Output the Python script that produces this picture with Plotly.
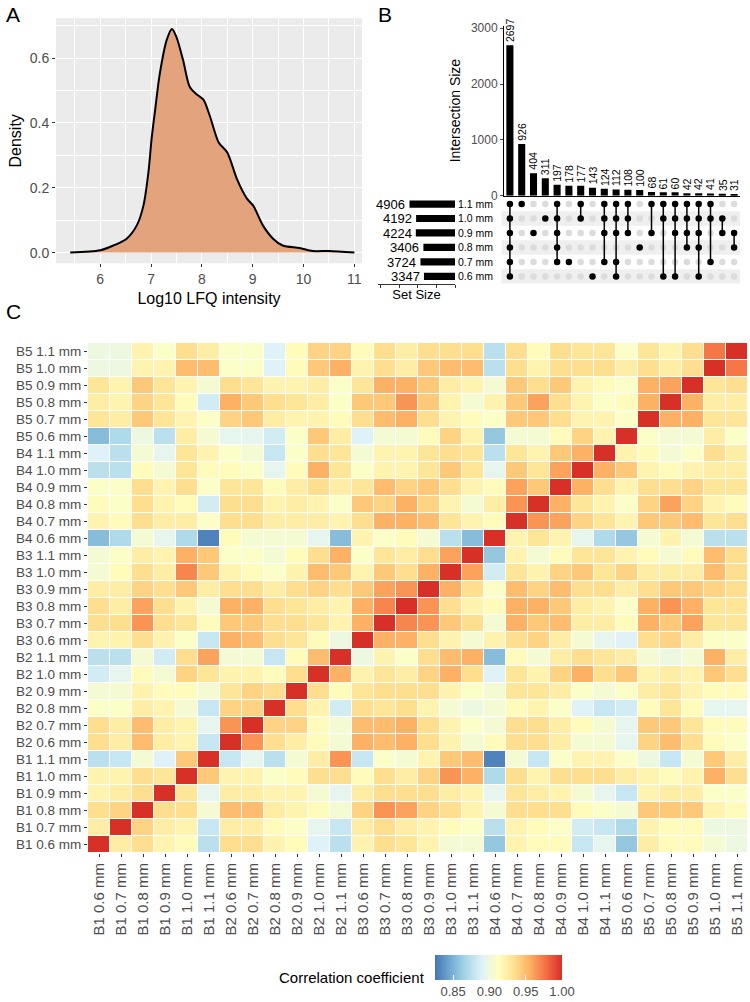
import plotly.graph_objects as go

W, H = 750, 1002
FONT = "Liberation Sans, Arial, sans-serif"
GREY30 = "#4D4D4D"

# ---------------- Panel A: density ----------------
dens_x = [5.41, 6.0, 6.26, 6.52, 6.72, 6.85, 6.95, 7.01, 7.08, 7.17, 7.31, 7.41, 7.5, 7.63,
          7.76, 7.9, 8.03, 8.16, 8.33, 8.5, 8.69, 8.89, 9.01, 9.2, 9.4, 9.59, 9.92, 10.18, 10.5, 11.0]
dens_y = [0.0, 0.007, 0.022, 0.043, 0.084, 0.145, 0.25, 0.35, 0.44, 0.55, 0.657, 0.69, 0.665, 0.594,
          0.512, 0.488, 0.472, 0.42, 0.34, 0.309, 0.227, 0.166, 0.145, 0.084, 0.043, 0.022, 0.014, 0.005, 0.005, 0.0]

# ---------------- Panel B: UpSet ----------------
set_names = ["0.6 mm", "0.7 mm", "0.8 mm", "0.9 mm", "1.0 mm", "1.1 mm"]
set_sizes = [3347, 3724, 3406, 4224, 4192, 4906]
inter_sizes = [2697, 926, 404, 311, 197, 178, 177, 143, 124, 112, 108, 100, 68, 61, 60, 42, 42, 41, 35, 31]
inter_members = [
    ["1.1 mm", "1.0 mm", "0.9 mm", "0.8 mm", "0.7 mm", "0.6 mm"],
    ["1.1 mm"],
    ["0.9 mm"],
    ["1.0 mm"],
    ["1.1 mm", "1.0 mm", "0.9 mm", "0.8 mm", "0.7 mm"],
    ["0.7 mm"],
    ["1.1 mm", "1.0 mm"],
    ["0.6 mm"],
    ["1.1 mm", "1.0 mm", "0.9 mm", "0.7 mm"],
    ["1.1 mm", "1.0 mm", "0.9 mm", "0.7 mm", "0.6 mm"],
    ["1.1 mm", "1.0 mm", "0.9 mm"],
    ["0.8 mm"],
    ["1.1 mm", "0.9 mm"],
    ["1.1 mm", "1.0 mm", "0.6 mm"],
    ["1.1 mm", "1.0 mm", "0.9 mm", "0.6 mm"],
    ["1.1 mm", "1.0 mm", "0.9 mm", "0.8 mm"],
    ["1.1 mm", "1.0 mm", "0.9 mm", "0.8 mm", "0.6 mm"],
    ["1.1 mm", "1.0 mm", "0.7 mm"],
    ["1.0 mm", "0.9 mm"],
    ["0.9 mm", "0.8 mm"],
]

# ---------------- Panel C: correlation heatmap ----------------
batches = ["B1", "B2", "B3", "B4", "B5"]
thick = ["0.6 mm", "0.7 mm", "0.8 mm", "0.9 mm", "1.0 mm", "1.1 mm"]
samples = [f"{b} {t}" for b in batches for t in thick]
corr = [
    [1.0, 0.925, 0.935, 0.92, 0.915, 0.875, 0.935, 0.935, 0.92, 0.915, 0.89, 0.875, 0.92, 0.935, 0.93, 0.92, 0.905, 0.905, 0.86, 0.92, 0.915, 0.915, 0.88, 0.895, 0.86, 0.925, 0.915, 0.915, 0.905, 0.9],
    [0.925, 1.0, 0.94, 0.925, 0.92, 0.88, 0.925, 0.925, 0.915, 0.91, 0.895, 0.88, 0.925, 0.935, 0.925, 0.92, 0.915, 0.91, 0.875, 0.92, 0.915, 0.91, 0.885, 0.88, 0.87, 0.92, 0.915, 0.915, 0.9, 0.9],
    [0.935, 0.94, 1.0, 0.935, 0.935, 0.905, 0.95, 0.95, 0.925, 0.92, 0.915, 0.905, 0.94, 0.965, 0.96, 0.94, 0.935, 0.92, 0.905, 0.935, 0.935, 0.935, 0.915, 0.91, 0.905, 0.945, 0.945, 0.945, 0.92, 0.915],
    [0.92, 0.925, 0.935, 1.0, 0.93, 0.895, 0.925, 0.925, 0.92, 0.92, 0.905, 0.895, 0.925, 0.935, 0.935, 0.935, 0.925, 0.92, 0.895, 0.93, 0.925, 0.92, 0.905, 0.895, 0.88, 0.92, 0.925, 0.925, 0.91, 0.91],
    [0.92, 0.92, 0.935, 0.93, 1.0, 0.945, 0.92, 0.92, 0.91, 0.915, 0.935, 0.935, 0.915, 0.935, 0.925, 0.94, 0.965, 0.955, 0.87, 0.935, 0.92, 0.935, 0.935, 0.935, 0.925, 0.92, 0.915, 0.92, 0.955, 0.935],
    [0.875, 0.88, 0.905, 0.89, 0.945, 1.0, 0.88, 0.895, 0.875, 0.905, 0.925, 0.965, 0.88, 0.91, 0.905, 0.92, 0.945, 0.95, 0.83, 0.905, 0.88, 0.91, 0.92, 0.92, 0.91, 0.9, 0.88, 0.905, 0.945, 0.925],
    [0.935, 0.925, 0.95, 0.925, 0.92, 0.88, 1.0, 0.965, 0.935, 0.925, 0.915, 0.905, 0.955, 0.95, 0.955, 0.935, 0.92, 0.905, 0.915, 0.935, 0.935, 0.925, 0.905, 0.905, 0.895, 0.94, 0.95, 0.935, 0.915, 0.91],
    [0.935, 0.925, 0.95, 0.925, 0.92, 0.895, 0.965, 1.0, 0.94, 0.94, 0.915, 0.905, 0.95, 0.95, 0.955, 0.935, 0.92, 0.91, 0.905, 0.935, 0.935, 0.925, 0.915, 0.905, 0.895, 0.945, 0.945, 0.93, 0.915, 0.915],
    [0.91, 0.91, 0.925, 0.92, 0.905, 0.88, 0.94, 0.94, 1.0, 0.935, 0.92, 0.885, 0.935, 0.93, 0.935, 0.92, 0.905, 0.9, 0.905, 0.915, 0.92, 0.91, 0.89, 0.88, 0.885, 0.915, 0.93, 0.915, 0.895, 0.895],
    [0.905, 0.905, 0.92, 0.915, 0.915, 0.905, 0.93, 0.94, 0.935, 1.0, 0.935, 0.915, 0.93, 0.935, 0.935, 0.935, 0.92, 0.91, 0.905, 0.93, 0.93, 0.925, 0.91, 0.905, 0.91, 0.925, 0.93, 0.92, 0.915, 0.915],
    [0.885, 0.895, 0.915, 0.905, 0.94, 0.93, 0.92, 0.92, 0.915, 0.935, 1.0, 0.955, 0.92, 0.93, 0.925, 0.94, 0.955, 0.935, 0.89, 0.93, 0.92, 0.94, 0.955, 0.935, 0.945, 0.92, 0.925, 0.92, 0.945, 0.935],
    [0.875, 0.875, 0.905, 0.885, 0.935, 0.96, 0.905, 0.905, 0.88, 0.915, 0.95, 1.0, 0.9, 0.92, 0.91, 0.935, 0.95, 0.955, 0.855, 0.915, 0.905, 0.925, 0.935, 0.93, 0.925, 0.905, 0.9, 0.905, 0.955, 0.925],
    [0.92, 0.92, 0.935, 0.92, 0.91, 0.88, 0.955, 0.95, 0.935, 0.93, 0.915, 0.9, 1.0, 0.955, 0.955, 0.935, 0.92, 0.905, 0.92, 0.935, 0.94, 0.925, 0.905, 0.895, 0.89, 0.935, 0.94, 0.925, 0.91, 0.91],
    [0.935, 0.935, 0.965, 0.935, 0.93, 0.915, 0.945, 0.945, 0.935, 0.935, 0.93, 0.92, 0.955, 1.0, 0.97, 0.965, 0.945, 0.935, 0.905, 0.955, 0.945, 0.95, 0.925, 0.925, 0.915, 0.955, 0.945, 0.96, 0.93, 0.93],
    [0.935, 0.925, 0.96, 0.935, 0.92, 0.905, 0.955, 0.955, 0.935, 0.93, 0.925, 0.92, 0.955, 0.97, 1.0, 0.965, 0.935, 0.92, 0.915, 0.955, 0.955, 0.945, 0.925, 0.92, 0.91, 0.955, 0.965, 0.955, 0.93, 0.93],
    [0.925, 0.925, 0.94, 0.935, 0.945, 0.925, 0.935, 0.935, 0.925, 0.935, 0.94, 0.935, 0.945, 0.96, 0.965, 1.0, 0.955, 0.935, 0.91, 0.95, 0.94, 0.95, 0.935, 0.935, 0.925, 0.935, 0.945, 0.945, 0.94, 0.935],
    [0.905, 0.915, 0.935, 0.925, 0.97, 0.945, 0.92, 0.915, 0.91, 0.92, 0.95, 0.945, 0.92, 0.945, 0.935, 0.955, 1.0, 0.96, 0.885, 0.93, 0.92, 0.94, 0.945, 0.93, 0.94, 0.925, 0.925, 0.925, 0.95, 0.935],
    [0.905, 0.91, 0.925, 0.92, 0.955, 0.945, 0.91, 0.91, 0.905, 0.915, 0.935, 0.955, 0.91, 0.93, 0.925, 0.935, 0.96, 1.0, 0.86, 0.92, 0.905, 0.915, 0.93, 0.93, 0.92, 0.915, 0.905, 0.915, 0.95, 0.935],
    [0.855, 0.87, 0.905, 0.895, 0.87, 0.83, 0.915, 0.905, 0.905, 0.905, 0.895, 0.855, 0.92, 0.91, 0.915, 0.905, 0.875, 0.855, 1.0, 0.92, 0.93, 0.92, 0.895, 0.87, 0.86, 0.905, 0.92, 0.905, 0.875, 0.875],
    [0.92, 0.915, 0.935, 0.925, 0.925, 0.91, 0.935, 0.935, 0.925, 0.925, 0.925, 0.92, 0.935, 0.955, 0.955, 0.95, 0.93, 0.92, 0.915, 1.0, 0.965, 0.96, 0.94, 0.93, 0.92, 0.945, 0.945, 0.95, 0.93, 0.935],
    [0.915, 0.91, 0.935, 0.92, 0.915, 0.885, 0.935, 0.935, 0.92, 0.925, 0.92, 0.91, 0.945, 0.94, 0.955, 0.94, 0.92, 0.905, 0.925, 0.965, 1.0, 0.955, 0.93, 0.92, 0.91, 0.94, 0.96, 0.94, 0.92, 0.915],
    [0.91, 0.91, 0.935, 0.92, 0.935, 0.91, 0.93, 0.93, 0.915, 0.925, 0.935, 0.925, 0.93, 0.95, 0.94, 0.945, 0.935, 0.92, 0.915, 0.96, 0.945, 1.0, 0.955, 0.935, 0.92, 0.935, 0.935, 0.94, 0.93, 0.93],
    [0.875, 0.875, 0.915, 0.905, 0.93, 0.915, 0.915, 0.91, 0.895, 0.915, 0.955, 0.93, 0.91, 0.92, 0.92, 0.93, 0.945, 0.93, 0.895, 0.945, 0.93, 0.96, 1.0, 0.955, 0.945, 0.92, 0.915, 0.92, 0.925, 0.925],
    [0.89, 0.875, 0.905, 0.895, 0.93, 0.92, 0.91, 0.905, 0.88, 0.91, 0.935, 0.93, 0.905, 0.92, 0.92, 0.93, 0.935, 0.93, 0.875, 0.93, 0.92, 0.945, 0.955, 1.0, 0.92, 0.915, 0.905, 0.91, 0.935, 0.925],
    [0.855, 0.87, 0.9, 0.875, 0.925, 0.905, 0.895, 0.895, 0.885, 0.91, 0.945, 0.925, 0.89, 0.905, 0.905, 0.915, 0.94, 0.92, 0.86, 0.905, 0.905, 0.915, 0.94, 0.92, 1.0, 0.91, 0.905, 0.905, 0.925, 0.91],
    [0.93, 0.925, 0.945, 0.93, 0.92, 0.91, 0.94, 0.945, 0.925, 0.92, 0.92, 0.915, 0.935, 0.95, 0.955, 0.935, 0.92, 0.915, 0.91, 0.945, 0.945, 0.935, 0.92, 0.92, 0.91, 1.0, 0.955, 0.955, 0.93, 0.93],
    [0.925, 0.92, 0.94, 0.93, 0.915, 0.885, 0.955, 0.945, 0.935, 0.93, 0.925, 0.91, 0.945, 0.945, 0.965, 0.945, 0.92, 0.905, 0.92, 0.945, 0.96, 0.935, 0.92, 0.91, 0.915, 0.955, 1.0, 0.955, 0.925, 0.925],
    [0.93, 0.92, 0.945, 0.93, 0.92, 0.905, 0.935, 0.93, 0.92, 0.92, 0.925, 0.91, 0.93, 0.955, 0.955, 0.945, 0.925, 0.92, 0.905, 0.945, 0.935, 0.945, 0.92, 0.915, 0.91, 0.955, 0.96, 1.0, 0.93, 0.935],
    [0.9, 0.9, 0.92, 0.92, 0.95, 0.95, 0.91, 0.91, 0.89, 0.915, 0.945, 0.955, 0.92, 0.935, 0.925, 0.945, 0.95, 0.95, 0.875, 0.935, 0.92, 0.935, 0.935, 0.935, 0.925, 0.935, 0.925, 0.935, 1.0, 0.975],
    [0.9, 0.9, 0.92, 0.91, 0.935, 0.925, 0.91, 0.91, 0.89, 0.915, 0.94, 0.94, 0.915, 0.935, 0.925, 0.935, 0.935, 0.935, 0.875, 0.935, 0.915, 0.935, 0.93, 0.93, 0.91, 0.93, 0.92, 0.935, 0.975, 1.0],
]
cbar_ticks = [0.85, 0.90, 0.95, 1.00]
rdylbu_rev = ["#4575B4", "#74ADD1", "#ABD9E9", "#E0F3F8", "#FFFFBF", "#FEE090", "#FDAE61", "#F46D43", "#D73027"]


def px_x(p):
    return p / W


def px_y(p):
    return 1 - p / H


fig = go.Figure()

# Panel A
fig.add_trace(go.Scatter(x=dens_x, y=dens_y, mode="lines", line=dict(color="black", width=2, shape="spline", smoothing=0.8),
                         fill="tozeroy", fillcolor="#E3A47D", xaxis="x", yaxis="y", showlegend=False, hoverinfo="skip"))

# Panel B - intersection bars
ix = list(range(1, len(inter_sizes) + 1))
fig.add_trace(go.Bar(x=ix, y=inter_sizes, marker=dict(color="black", line=dict(width=0)), width=0.6,
                     xaxis="x2", yaxis="y2", showlegend=False))

# Panel B - matrix dots
set_pos = {s: i + 1 for i, s in enumerate(set_names)}
gx, gy, bx, by = [], [], [], []
lx, ly = [], []
for i, mem in enumerate(inter_members):
    for s in set_names:
        if s in mem:
            bx.append(i + 1)
            by.append(set_pos[s])
        else:
            gx.append(i + 1)
            gy.append(set_pos[s])
    if len(mem) > 1:
        ps = [set_pos[s] for s in mem]
        lx += [i + 1, i + 1, None]
        ly += [min(ps), max(ps), None]
fig.add_trace(go.Scatter(x=gx, y=gy, mode="markers", marker=dict(color="#DCDCDC", size=6.5),
                         xaxis="x3", yaxis="y3", showlegend=False))
fig.add_trace(go.Scatter(x=lx, y=ly, mode="lines", line=dict(color="black", width=1.5),
                         xaxis="x3", yaxis="y3", showlegend=False))
fig.add_trace(go.Scatter(x=bx, y=by, mode="markers", marker=dict(color="black", size=6.5),
                         xaxis="x3", yaxis="y3", showlegend=False))

# Panel B - set size bars
fig.add_trace(go.Bar(y=list(range(1, 7)), x=set_sizes, orientation="h", width=0.5,
                     marker=dict(color="black", line=dict(width=0)),
                     xaxis="x4", yaxis="y4", showlegend=False))

# Panel C heatmap
fig.add_trace(go.Heatmap(z=corr, x=samples, y=samples, colorscale=[[i / 8, c] for i, c in enumerate(rdylbu_rev)],
                         zmin=0.825, zmax=1.0, xgap=1, ygap=1, xaxis="x5", yaxis="y5",
                         colorbar=dict(orientation="h", x=px_x(498.5), xanchor="center", y=px_y(955), yanchor="top",
                                       ypad=0, len=147 / W, lenmode="fraction", thickness=25, outlinewidth=0,
                                       tickvals=cbar_ticks, ticktext=[f"{v:.2f}" for v in cbar_ticks],
                                       ticks="inside", ticklen=5, tickcolor="white", tickwidth=1,
                                       tickfont=dict(size=13, color=GREY30, family=FONT))))

shapes = []
for s in ["1.0 mm", "0.8 mm", "0.6 mm"]:
    p = set_pos[s]
    shapes.append(dict(type="rect", xref="x3 domain", yref="y3", x0=-0.01, x1=1.0, y0=p - 0.5, y1=p + 0.5,
                       fillcolor="#EFEFEF", line=dict(width=0), layer="below"))
shapes.append(dict(type="rect", xref="x domain", yref="y domain", x0=0, x1=1, y0=0, y1=1,
                   fillcolor="#EBEBEB", line=dict(width=0), layer="below"))

annotations = [
    dict(text="A", x=px_x(4), y=px_y(1), xref="paper", yref="paper", xanchor="left", yanchor="top",
         showarrow=False, font=dict(size=21, color="black")),
    dict(text="B", x=px_x(376), y=px_y(1), xref="paper", yref="paper", xanchor="left", yanchor="top",
         showarrow=False, font=dict(size=21, color="black")),
    dict(text="C", x=px_x(4), y=px_y(298), xref="paper", yref="paper", xanchor="left", yanchor="top",
         showarrow=False, font=dict(size=21, color="black")),
    dict(text="Correlation coefficient", x=px_x(427), y=px_y(977), xref="paper", yref="paper",
         xanchor="right", yanchor="middle", showarrow=False, font=dict(size=15, color="black")),
]
for i, v in enumerate(inter_sizes):
    annotations.append(dict(text=str(v), x=i + 1, y=v, xref="x2", yref="y2", textangle=-90,
                            xanchor="center", yanchor="bottom", yshift=1, showarrow=False,
                            font=dict(size=10.5, color="black")))
for i, v in enumerate(set_sizes):
    annotations.append(dict(text=str(v), x=v, y=i + 1, xref="x4", yref="y4", xanchor="right",
                            yanchor="middle", xshift=-2, showarrow=False, font=dict(size=13, color="black")))

layout = dict(
    width=W, height=H, margin=dict(l=0, r=0, t=0, b=0, autoexpand=False), paper_bgcolor="white", plot_bgcolor="white",
    font=dict(family=FONT, color="black"),
    shapes=shapes, annotations=annotations,
    xaxis=dict(domain=[px_x(56), px_x(362)], range=[5.13, 11.15], tickvals=[6, 7, 8, 9, 10, 11],
               showgrid=True, gridcolor="white", gridwidth=1.2, zeroline=False, ticks="outside", ticklen=3,
               tickcolor="#333333", tickfont=dict(size=14, color=GREY30),
               minor=dict(tickvals=[5.5, 6.5, 7.5, 8.5, 9.5, 10.5], showgrid=True, gridcolor="white", gridwidth=0.6),
               title=dict(text="Log10 LFQ intensity", font=dict(size=16), standoff=6), anchor="y"),
    yaxis=dict(domain=[px_y(263.3), px_y(18.3)], range=[-0.033, 0.723], tickvals=[0, 0.2, 0.4, 0.6],
               ticktext=["0.0", "0.2", "0.4", "0.6"], showgrid=True, gridcolor="white", gridwidth=1.2,
               zeroline=False, ticks="outside", ticklen=3, tickcolor="#333333", tickfont=dict(size=14, color=GREY30),
               minor=dict(tickvals=[0.1, 0.3, 0.5, 0.7], showgrid=True, gridcolor="white", gridwidth=0.6),
               title=dict(text="Density", font=dict(size=16), standoff=4), anchor="x"),
    xaxis2=dict(domain=[px_x(504), px_x(740)], range=[0.5, 20.5], showticklabels=False, showgrid=False,
                zeroline=False, showline=True, linecolor="black", linewidth=1, anchor="y2", ticks=""),
    yaxis2=dict(domain=[px_y(195.7), px_y(25.5)], range=[0, 3050], tickvals=[0, 1000, 2000, 3000],
                showgrid=False, zeroline=False, showline=True, linecolor="black", linewidth=1, ticks="outside",
                ticklen=3, tickfont=dict(size=12, color=GREY30), anchor="x2",
                title=dict(text="Intersection Size", font=dict(size=14), standoff=6)),
    xaxis3=dict(domain=[px_x(504), px_x(740)], range=[0.5, 20.5], showticklabels=False, showgrid=False,
                zeroline=False, showline=False, anchor="y3"),
    yaxis3=dict(domain=[px_y(283.75), px_y(196.75)], range=[0.5, 6.5], tickvals=list(range(1, 7)),
                ticktext=set_names, showgrid=False, zeroline=False, showline=False, ticks="",
                tickfont=dict(size=10.5, color="black"), anchor="x3", ticklabelstandoff=10),
    xaxis4=dict(domain=[px_x(378), px_x(455)], range=[8300, 0], tickvals=[0, 2000, 4000, 6000, 8000],
                ticktext=["", "", "", "", ""], showgrid=False, zeroline=False, showline=True, linecolor="#333333",
                linewidth=0.8, ticks="outside", ticklen=3, tickcolor="#333333", anchor="y4",
                title=dict(text="Set Size", font=dict(size=13), standoff=0)),
    yaxis4=dict(domain=[px_y(283.75), px_y(196.75)], range=[0.5, 6.5], showticklabels=False, showgrid=False,
                zeroline=False, showline=False, anchor="x4"),
    xaxis5=dict(domain=[px_x(88), px_x(748)], showgrid=False, zeroline=False, ticks="outside", ticklen=3,
                tickcolor="#333333", tickangle=-90, tickfont=dict(size=15, color=GREY30), anchor="y5"),
    yaxis5=dict(domain=[px_y(853), px_y(343)], showgrid=False, zeroline=False, ticks="outside", ticklen=3,
                tickcolor="#333333", tickfont=dict(size=13.5, color=GREY30), anchor="x5"),
)
fig.update_layout(**layout)

fig.write_html("out.html", config={"displayModeBar": False},
               post_script="document.body.style.margin='0';document.body.style.overflow='hidden';")
